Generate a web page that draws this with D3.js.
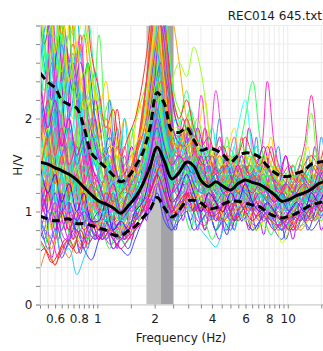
<!DOCTYPE html>
<html><head><meta charset="utf-8">
<script src="https://cdn.jsdelivr.net/npm/d3@7"></script>
<style>
body{margin:0;background:#fff}
svg{display:block}
text{font-family:"DejaVu Sans",Verdana,sans-serif;fill:#1a1a1a}
</style>
</head><body>
<svg id="chart" width="323" height="351"></svg>
<script>
const chartTitle = "REC014 645.txt";
const xTitle = "Frequency (Hz)";
const yTitle = "H/V";

// frequency samples of window group A and of the mean / std curves
const freqs = [0.50,0.55,0.60,0.65,0.71,0.78,0.85,0.93,1.02,1.11,1.21,1.33,1.45,1.58,1.73,1.89,2.06,2.25,2.46,2.69,2.94,3.21,3.51,3.84,4.19,4.58,5.01,5.47,5.98,6.54,7.14,7.81,8.53,9.32,10.2,11.1,12.2,13.3,14.5,15.5];
// frequency samples of window groups B and C
const freqsB = [0.48,0.525,0.575,0.625,0.68,0.745,0.815,0.89,0.975,1.065,1.16,1.27,1.39,1.515,1.655,1.81,1.975,2.155,2.355,2.575,2.815,3.075,3.36,3.675,4.015,4.385,4.795,5.24,5.725,6.26,6.84,7.475,8.17,8.925,9.76,10.65,11.65,12.75,13.9,15.0,16.2];

const meanHV  = [1.53,1.51,1.47,1.44,1.40,1.34,1.26,1.18,1.11,1.08,1.04,0.98,1.06,1.15,1.29,1.48,1.69,1.54,1.35,1.42,1.53,1.49,1.33,1.27,1.32,1.27,1.23,1.30,1.34,1.31,1.29,1.24,1.18,1.11,1.13,1.17,1.20,1.24,1.30,1.32];
const upperHV = [2.49,2.39,2.33,2.20,2.15,2.11,1.91,1.63,1.54,1.47,1.39,1.32,1.37,1.48,1.63,1.90,2.28,2.16,1.87,1.85,1.90,1.77,1.66,1.68,1.66,1.61,1.53,1.60,1.63,1.62,1.58,1.49,1.42,1.38,1.38,1.41,1.44,1.51,1.53,1.54];
const lowerHV = [0.95,0.92,0.90,0.91,0.92,0.87,0.87,0.85,0.82,0.80,0.75,0.74,0.79,0.84,0.93,1.02,1.15,1.04,0.94,1.01,1.11,1.12,1.09,1.03,1.04,1.08,1.11,1.11,1.09,1.07,1.05,0.99,0.95,0.93,0.95,0.98,1.03,1.07,1.09,1.11];

const peakBandLow  = [1.81, 2.16];
const peakBandHigh = [2.16, 2.51];

const xTickValues = [0.5,0.55,0.6,0.65,0.7,0.75,0.8,0.85,0.9,0.95,1,1.5,2,2.5,3,3.5,4,4.5,5,5.5,6,6.5,7,7.5,8,8.5,9,9.5,10,15];
const xTickLabels = [0.6,0.8,1,2,4,6,8,10];
const yTickValues = [0,0.2,0.4,0.6,0.8,1,1.2,1.4,1.6,1.8,2,2.2,2.4,2.6,2.8,3];
const yTickLabels = [0,1,2];

// windows, group A (sampled at freqs)
const win01 = [3.4,2.6,3.2,2.4,2.9,2.0,2.3,1.7,1.9,1.4,1.6,1.2,1.5,1.3,1.6,2.1,2.6,1.9,1.5,1.8,1.6,1.9,1.5,1.6,1.3,1.5,1.2,1.4,1.6,1.3,1.5,1.2,1.3,1.1,1.2,1.4,1.3,1.5,1.4,1.6];
const win02 = [0.9,0.6,0.8,0.5,0.7,0.9,0.6,0.8,0.7,0.9,0.6,0.7,0.6,0.8,0.9,1.1,1.3,1.0,0.8,1.0,1.2,1.1,0.9,1.0,0.8,1.0,0.9,1.1,1.0,0.8,0.9,1.0,0.8,0.7,0.9,0.8,1.0,0.9,1.1,1.0];
const win03 = [4.5,3.8,4.2,3.1,3.6,2.8,3.2,2.5,2.1,2.4,1.7,1.5,1.3,1.6,1.9,2.4,3.2,2.6,1.8,1.7,2.0,1.8,1.6,1.4,1.5,1.3,1.6,1.4,1.2,1.5,1.3,1.4,1.6,1.3,1.2,1.1,1.3,1.2,1.4,1.5];
const win04 = [1.6,2.1,1.4,1.8,1.3,1.6,1.2,1.4,1.0,1.2,0.9,1.1,1.0,1.2,1.1,1.5,1.8,1.6,1.3,1.4,1.6,1.3,1.5,1.1,1.3,1.2,1.0,1.2,1.4,1.3,1.1,1.3,1.2,1.0,1.1,1.2,1.0,1.1,1.3,1.2];
const win05 = [0.37,0.6,0.42,0.63,0.5,0.7,0.6,0.8,0.9,0.7,0.8,0.9,0.7,0.9,1.0,1.2,1.4,1.1,0.9,1.1,1.2,1.0,1.3,1.1,0.9,1.0,1.2,1.0,1.1,0.9,1.0,1.2,1.0,0.9,1.0,0.8,0.9,1.1,1.0,1.1];
const win06 = [2.8,3.5,2.5,3.0,2.2,2.7,1.9,2.2,1.6,1.3,1.5,1.2,1.4,1.1,1.3,1.7,2.2,2.0,1.6,1.5,1.8,1.7,1.4,1.5,1.3,1.4,1.2,1.5,1.3,1.4,1.5,1.3,1.2,1.0,1.1,1.3,1.2,1.4,1.3,1.4];
const win07 = [1.2,1.5,1.1,1.4,1.0,1.3,1.1,1.6,2.9,1.8,1.2,1.0,1.1,1.3,1.2,1.4,1.7,1.4,1.2,1.3,1.5,1.2,1.3,1.4,1.1,1.2,1.4,1.2,1.1,1.3,1.2,1.0,1.1,1.2,1.0,1.1,1.3,1.1,1.2,1.3];
const win08 = [2.0,1.6,2.2,1.5,1.8,1.4,1.5,1.2,1.1,1.3,1.0,1.2,1.1,1.4,1.6,2.0,2.5,2.2,2.4,2.6,2.45,2.77,2.5,1.9,1.5,1.6,1.3,1.4,1.2,1.3,1.5,1.3,1.2,1.4,1.3,1.1,1.2,1.4,1.3,1.2];
const win09 = [1.4,1.1,1.5,1.2,1.6,1.3,1.0,1.2,0.9,1.1,1.0,0.8,1.0,1.2,1.3,1.6,1.9,1.5,1.3,1.2,1.5,1.3,1.1,1.4,1.2,1.5,1.3,1.6,2.0,2.4,1.8,1.4,1.2,1.3,1.1,1.2,1.4,1.2,1.1,1.3];
const win10 = [2.5,1.9,2.3,1.7,2.0,1.6,1.8,1.4,1.3,1.1,1.2,0.9,1.1,1.0,1.2,1.5,1.8,1.4,1.2,1.4,1.3,1.6,1.2,1.3,1.5,1.2,1.4,1.2,1.3,1.5,1.6,2.4,1.7,1.4,1.3,1.2,1.4,1.3,1.5,1.4];
const win11 = [1.0,1.3,0.9,1.2,0.8,1.1,0.9,1.0,0.8,1.0,0.9,0.7,0.9,1.0,1.2,1.3,1.6,1.2,1.0,1.2,1.4,1.1,1.3,1.0,1.2,1.1,1.3,1.0,1.2,1.1,1.0,1.3,1.1,1.0,1.2,1.4,1.7,2.25,1.6,1.3];
const win12 = [3.0,2.3,2.7,2.0,2.4,1.8,2.1,1.6,1.4,1.2,1.4,1.1,1.3,1.2,1.4,1.8,2.1,1.7,1.4,1.5,1.3,1.6,1.4,1.2,1.4,1.3,1.5,1.9,2.2,1.6,1.3,1.2,1.4,1.2,1.1,1.3,1.2,1.4,1.2,1.3];
const win13 = [1.8,2.4,1.6,2.1,1.5,1.9,1.4,1.7,1.5,1.2,1.3,1.0,1.2,1.1,1.3,1.6,2.0,1.7,1.4,1.3,1.4,1.2,1.5,1.3,1.1,1.3,1.2,1.4,1.3,1.2,1.4,1.3,1.5,1.3,1.2,1.3,1.6,2.06,1.5,1.4];
const win14 = [2.2,1.7,2.0,1.5,1.8,1.3,1.6,1.2,1.0,1.2,1.0,0.9,1.1,1.3,1.5,1.9,2.3,1.8,1.5,1.6,1.8,1.7,2.25,1.6,2.3,1.7,1.4,1.5,1.3,1.4,1.2,1.3,1.4,1.2,1.1,1.3,1.2,1.1,1.3,1.2];
const win15 = [1.3,1.7,1.2,1.5,1.1,1.4,1.0,1.3,1.2,1.0,1.1,0.9,1.2,1.4,1.3,1.7,2.0,1.8,1.6,1.9,2.3,1.8,1.5,1.3,1.4,1.2,1.3,1.5,1.3,1.1,1.2,1.4,1.2,1.0,1.1,1.2,1.1,1.3,1.2,1.1];
const win16 = [1.0,0.7,0.8,0.55,0.6,0.32,0.5,0.7,0.8,0.7,0.9,0.8,0.9,1.0,1.1,1.3,1.5,1.2,1.0,1.1,1.0,1.2,0.9,1.0,0.8,0.9,1.0,0.9,1.1,1.0,0.9,1.0,0.8,0.9,1.0,0.9,1.0,1.1,1.0,1.0];
const win17 = [1.1,1.4,1.0,1.2,0.9,0.8,0.6,0.48,0.7,0.9,0.7,0.6,0.53,0.7,0.9,1.0,1.2,0.9,0.8,0.9,1.0,0.8,0.9,1.0,0.8,0.9,0.8,1.0,0.9,0.8,0.9,1.0,0.9,0.8,0.9,1.0,0.9,0.8,0.9,1.0];
const win18 = [0.7,0.55,0.43,0.6,0.7,0.55,0.7,0.9,0.8,1.0,0.9,0.8,1.0,0.9,1.1,1.2,1.4,1.2,1.0,1.0,1.2,1.1,1.0,1.2,0.9,1.0,1.1,0.9,1.0,1.2,1.0,0.9,1.0,0.9,0.8,1.0,0.9,1.0,1.2,1.1];
const win19 = [1.7,1.3,1.6,1.2,1.5,1.1,1.3,1.0,0.9,1.0,0.8,0.9,0.8,1.0,1.1,1.3,1.5,1.1,0.9,1.0,1.1,0.9,0.8,0.7,0.62,0.8,0.9,1.0,0.9,1.1,1.0,0.9,1.0,0.8,0.9,1.0,0.9,1.1,1.0,0.9];
const win20 = [1.5,1.9,1.4,1.7,1.3,1.5,1.2,1.3,1.1,0.9,1.0,0.8,1.0,0.9,1.1,1.4,1.6,1.3,1.1,1.2,1.3,1.1,1.2,1.0,1.1,0.9,1.0,1.1,0.9,1.0,0.9,0.8,0.9,0.66,0.8,0.9,1.0,0.9,1.0,1.1];
const win21 = [5.0,4.2,4.6,3.5,4.0,3.2,3.5,2.7,2.3,1.9,2.1,1.6,1.8,2.0,2.4,3.0,3.8,3.1,2.3,2.0,2.2,1.9,1.7,1.8,1.6,1.7,1.5,1.6,1.8,1.6,1.5,1.7,1.5,1.4,1.5,1.3,1.5,1.6,1.5,1.7];
const win22 = [2.6,3.1,2.3,2.8,2.0,2.4,1.7,2.0,1.5,1.7,1.3,1.2,1.4,1.5,1.7,2.2,2.7,2.1,1.6,1.7,1.9,1.6,1.4,1.5,1.3,1.5,1.4,1.6,1.4,1.3,1.5,1.4,1.3,1.2,1.4,1.3,1.4,1.5,1.4,1.5];
const win23 = [1.2,0.9,1.1,0.8,1.0,0.9,1.1,0.8,0.7,0.8,0.6,0.7,0.8,0.9,1.0,1.3,1.6,1.3,1.0,1.2,1.3,1.1,1.0,1.1,0.9,1.1,1.0,1.2,1.1,1.0,1.1,1.0,0.9,0.8,1.0,0.9,1.1,1.0,1.1,1.2];
const win24 = [1.9,1.5,1.8,1.4,1.7,1.2,1.5,1.1,1.3,1.1,1.2,1.0,1.1,1.0,1.2,1.6,1.9,1.6,1.3,1.6,1.4,1.5,1.3,1.4,1.2,1.4,1.3,1.2,1.4,1.2,1.3,1.1,1.2,1.1,1.0,1.2,1.1,1.2,1.3,1.2];
const win25 = [1.4,1.8,1.3,1.6,1.2,1.4,1.1,1.3,1.0,1.2,1.1,1.0,1.2,1.5,2.0,2.8,3.5,2.4,1.7,1.6,1.5,1.7,1.4,1.3,1.5,1.3,1.4,1.2,1.3,1.4,1.2,1.3,1.1,1.2,1.3,1.2,1.1,1.3,1.2,1.3];
const win26 = [1.6,1.3,1.5,1.2,1.4,1.1,1.3,1.0,1.2,1.0,1.1,0.9,1.1,1.3,1.6,2.2,2.8,3.3,3.1,2.6,2.0,1.7,1.5,1.4,1.6,1.4,1.3,1.5,1.3,1.2,1.4,1.5,1.3,1.2,1.3,1.4,1.2,1.3,1.2,1.4];
const win27 = [3.6,2.9,3.3,2.5,2.9,2.2,2.5,1.9,1.7,1.5,1.4,1.2,1.3,1.4,1.5,2.0,2.4,1.8,1.5,1.5,1.7,1.5,1.3,1.4,1.2,1.3,1.2,1.4,1.5,1.3,1.2,1.3,1.2,1.1,1.2,1.3,1.2,1.4,1.3,1.4];
const win28 = [0.8,1.0,0.7,0.9,0.7,0.8,0.7,0.9,0.8,0.7,0.8,0.7,0.8,0.9,1.0,1.1,1.3,1.1,0.9,1.0,1.1,1.0,1.1,0.9,1.0,1.1,0.9,1.0,1.1,1.0,0.9,1.0,0.9,0.8,0.9,1.0,0.9,1.0,1.1,1.0];
const win29 = [2.3,1.8,2.1,1.6,1.9,1.5,1.7,1.3,1.2,1.0,1.2,0.9,1.0,1.2,1.4,1.8,2.1,1.7,1.4,1.5,1.6,1.4,1.3,1.5,1.2,1.3,1.4,1.3,1.2,1.4,1.3,1.2,1.1,1.2,1.0,1.1,1.3,1.2,1.3,1.4];
const win30 = [1.1,1.4,1.0,1.3,0.9,1.2,0.9,1.1,1.0,0.8,0.9,0.8,0.9,1.1,1.2,1.5,1.8,1.4,1.2,1.3,1.2,1.4,1.2,1.1,1.3,1.1,1.2,1.3,1.1,1.2,1.1,1.0,1.1,1.0,1.1,1.2,1.0,1.1,1.2,1.1];
const win31 = [4.0,3.3,3.8,2.9,3.3,2.6,2.9,2.1,1.8,2.0,1.5,1.3,1.4,1.6,1.8,2.4,2.9,2.3,1.8,1.7,1.9,1.6,1.5,1.6,1.4,1.5,1.3,1.5,1.4,1.6,1.4,1.3,1.4,1.2,1.3,1.2,1.4,1.3,1.5,1.4];
const win32 = [1.3,1.0,1.2,1.0,1.1,0.9,1.0,0.9,1.0,0.9,0.8,0.9,1.0,1.1,1.3,1.6,1.9,1.5,1.2,1.3,1.5,1.3,1.2,1.3,1.1,1.2,1.1,1.3,1.2,1.1,1.2,1.1,1.0,1.1,1.0,1.1,1.2,1.1,1.2,1.3];
const win33 = [2.1,2.7,1.9,2.4,1.7,2.1,1.6,1.8,1.4,1.6,1.2,1.3,1.2,1.3,1.5,2.0,2.3,1.9,1.6,1.8,1.6,1.5,1.7,1.4,1.5,1.3,1.5,1.4,1.3,1.5,1.4,1.2,1.3,1.2,1.3,1.4,1.3,1.2,1.4,1.5];
const win34 = [0.9,1.2,0.8,1.0,0.8,1.0,0.8,0.9,0.7,0.8,0.7,0.6,0.7,0.8,0.9,1.2,1.4,1.2,1.0,1.1,1.2,1.0,1.1,1.0,1.1,0.9,1.0,1.1,1.0,0.9,1.0,0.9,0.8,0.9,0.8,0.9,1.0,0.9,1.0,1.1];
const win35 = [1.7,2.2,1.6,1.9,1.5,1.7,1.3,1.5,1.2,1.4,1.1,1.2,1.3,1.6,2.1,2.7,3.3,2.6,1.9,1.8,2.0,1.7,1.5,1.6,1.4,1.5,1.6,1.4,1.5,1.3,1.4,1.5,1.3,1.2,1.4,1.3,1.4,1.5,1.4,1.6];
const win36 = [3.2,2.5,2.9,2.2,2.6,2.0,2.2,1.6,1.5,1.3,1.4,1.1,1.2,1.3,1.4,1.9,2.2,1.8,1.4,1.5,1.4,1.6,1.4,1.2,1.3,1.2,1.4,1.3,1.4,1.2,1.3,1.4,1.2,1.1,1.2,1.1,1.3,1.2,1.3,1.4];
const win37 = [1.5,1.2,1.4,1.1,1.3,1.0,1.2,0.9,0.9,1.1,0.8,0.9,0.8,1.0,1.1,1.4,1.7,1.4,1.1,1.2,1.4,1.2,1.0,1.2,1.1,1.0,1.2,1.1,1.3,1.1,1.0,1.1,1.0,0.9,1.0,1.1,1.0,1.2,1.1,1.2];
const win38 = [2.9,3.7,2.7,3.3,2.4,2.8,2.1,2.4,1.9,1.6,1.7,1.4,1.5,1.7,1.9,2.5,3.1,2.4,1.9,1.9,1.7,1.8,1.6,1.5,1.7,1.5,1.6,1.4,1.6,1.5,1.4,1.6,1.4,1.3,1.4,1.3,1.5,1.4,1.6,1.5];
const win39 = [1.2,1.6,1.1,1.4,1.0,1.3,1.0,1.2,1.1,0.9,1.0,0.9,1.1,1.2,1.4,1.7,2.0,1.6,1.3,1.4,1.3,1.5,1.2,1.3,1.4,1.2,1.3,1.1,1.2,1.3,1.2,1.1,1.2,1.0,1.1,1.2,1.1,1.3,1.2,1.3];
const win40 = [2.4,1.9,2.2,1.7,2.0,1.6,1.8,1.5,1.3,1.1,1.3,1.0,1.2,1.1,1.3,1.6,2.0,1.7,1.5,1.6,1.5,1.4,1.6,1.3,1.4,1.2,1.3,1.5,1.3,1.2,1.3,1.2,1.1,1.2,1.1,1.2,1.3,1.2,1.4,1.3];

// windows, group B (sampled at freqsB)
const winB01 = [3.8,4.4,3.1,2.6,3.3,3.9,2.7,2.2,2.5,1.9,1.5,1.7,1.3,1.4,1.6,1.9,2.6,3.3,2.7,2.0,1.8,1.9,1.6,1.5,1.7,1.4,1.3,1.5,1.6,1.3,1.4,1.2,1.3,1.5,1.4,1.2,1.3,1.4,1.3,1.5,1.4];
const winB02 = [2.7,3.4,3.9,2.9,2.4,2.8,2.2,1.8,2.1,1.7,1.4,1.2,1.5,1.6,1.3,1.5,1.9,2.4,2.2,1.7,1.6,1.8,1.5,1.3,1.4,1.6,1.4,1.2,1.3,1.5,1.3,1.2,1.4,1.3,1.1,1.2,1.3,1.2,1.4,1.2,1.3];
const winB03 = [4.8,3.6,4.1,4.6,3.4,2.9,3.3,2.8,2.3,2.0,2.2,1.7,1.5,1.8,2.1,2.4,3.2,3.9,2.9,2.2,2.0,1.8,2.0,1.7,1.6,1.8,1.5,1.6,1.7,1.5,1.4,1.6,1.5,1.3,1.4,1.5,1.3,1.4,1.6,1.5,1.6];
const winB04 = [1.4,1.1,1.3,1.6,1.2,1.0,1.7,2.6,1.6,1.2,1.0,1.1,1.3,1.1,1.2,1.4,1.6,1.9,1.7,1.4,1.3,1.5,1.4,1.2,1.3,1.1,1.2,1.4,1.3,1.1,1.2,1.3,1.1,1.0,1.2,1.1,1.2,1.0,1.1,1.3,1.2];
const winB05 = [1.1,0.8,0.6,0.9,1.0,0.7,0.9,1.1,0.8,1.0,1.3,2.1,1.4,1.0,1.1,1.3,1.5,1.7,1.5,1.2,1.1,1.3,1.2,1.0,1.1,1.2,1.0,0.9,1.1,1.0,1.2,1.1,0.9,1.0,0.9,1.1,1.0,0.9,1.1,1.2,1.0];
const winB06 = [1.9,1.5,1.2,1.6,1.9,1.4,1.1,1.3,1.0,0.9,1.1,0.9,0.8,1.0,1.2,1.3,1.5,1.8,1.5,1.2,1.4,1.2,1.3,1.5,1.2,1.1,1.3,1.2,1.4,1.3,1.1,1.2,1.0,1.1,1.2,1.0,1.1,1.2,1.1,1.2,1.3];
const winB07 = [2.9,2.3,2.8,3.4,2.5,2.0,2.4,1.9,1.6,1.4,1.2,1.5,2.0,1.6,1.3,1.6,2.0,2.3,2.0,1.7,1.7,1.5,1.6,1.9,1.5,1.4,1.3,1.5,1.4,1.6,1.4,1.3,1.5,1.3,1.2,1.3,1.4,1.3,1.2,1.4,1.5];
const winB08 = [0.8,1.1,1.3,0.9,0.7,0.9,1.2,0.9,0.8,0.7,0.8,0.9,0.7,0.8,1.0,1.1,1.3,1.5,1.3,1.1,1.2,1.1,1.2,1.0,0.9,1.1,1.0,0.9,1.0,1.1,1.0,0.9,1.0,1.1,0.9,0.8,0.9,1.0,0.9,1.0,1.1];
const winB09 = [3.3,2.6,2.2,2.9,3.5,2.5,2.1,2.6,2.0,1.6,1.8,1.4,1.2,1.3,1.5,1.7,2.2,2.6,2.3,1.8,1.7,1.8,1.6,1.4,1.5,1.4,1.6,1.4,1.3,1.5,1.4,1.3,1.2,1.4,1.3,1.2,1.4,1.3,1.4,1.3,1.5];
const winB10 = [1.3,1.7,2.0,1.5,1.2,1.5,1.3,1.0,1.2,1.1,0.9,1.0,1.1,0.9,1.1,1.3,1.7,2.1,1.9,1.6,1.5,1.7,1.4,1.3,1.5,1.3,1.2,1.4,1.3,1.2,1.4,1.5,1.3,1.2,1.1,1.2,1.3,1.1,1.2,1.3,1.2];
const winB11 = [0.6,0.8,0.7,0.5,0.65,0.8,0.6,0.75,0.9,0.8,0.65,0.7,0.85,0.75,0.9,1.0,1.2,1.3,1.1,0.9,1.0,1.1,0.9,0.85,1.0,0.9,0.8,0.95,1.0,0.9,0.85,0.95,0.9,0.8,0.85,0.9,0.8,0.9,1.0,0.95,1.0];
const winB12 = [2.2,1.8,2.3,2.6,1.9,1.6,1.9,1.5,1.3,1.2,1.4,1.2,1.0,1.2,1.4,1.6,1.9,2.3,1.9,1.5,1.6,1.7,1.5,1.6,1.4,1.5,1.3,1.4,1.5,1.3,1.6,1.4,1.3,1.2,1.3,1.4,1.2,1.3,1.4,1.3,1.4];
const winB13 = [1.6,2.0,1.5,1.3,1.7,1.2,1.4,1.6,1.2,1.0,1.1,0.9,1.0,1.1,1.3,1.5,1.8,2.2,1.7,1.3,1.4,1.6,1.3,1.4,1.2,1.3,1.5,1.3,1.2,1.1,1.3,1.2,1.1,1.3,1.2,1.0,1.1,1.2,1.1,1.3,1.2];
const winB14 = [0.9,0.7,1.0,0.8,0.6,0.8,1.0,0.8,0.7,0.8,0.9,0.7,0.8,0.9,1.0,1.2,1.4,1.6,1.3,1.0,1.1,1.0,1.1,1.2,1.0,0.9,1.0,1.1,0.9,1.0,1.1,0.9,1.0,0.9,0.8,0.9,1.0,0.9,1.0,1.1,1.0];
const winB15 = [4.2,5.0,3.7,3.2,3.8,3.0,2.6,3.1,2.4,2.0,1.7,1.9,1.5,1.6,1.8,2.2,2.8,3.4,2.8,2.1,1.9,2.1,1.8,1.6,1.7,1.5,1.7,1.6,1.4,1.6,1.5,1.4,1.5,1.3,1.4,1.3,1.5,1.4,1.3,1.5,1.6];
const winB16 = [1.0,1.3,1.1,0.9,1.2,1.0,0.8,1.0,0.9,0.8,0.9,1.0,0.8,0.9,1.1,1.2,1.5,1.7,1.4,1.1,1.2,1.4,1.1,1.2,1.0,1.1,1.2,1.0,1.1,1.2,1.0,1.1,0.9,1.0,0.9,1.0,1.1,1.0,0.9,1.1,1.2];
const winB17 = [3.1,3.6,2.7,2.3,2.8,2.4,2.9,2.0,1.8,1.5,1.6,1.3,1.4,1.2,1.4,1.7,2.1,2.5,2.1,1.6,1.6,1.8,1.5,1.4,1.6,1.3,1.4,1.5,1.3,1.4,1.3,1.2,1.4,1.2,1.3,1.2,1.1,1.3,1.2,1.4,1.3];
const winB18 = [1.8,1.4,1.7,2.1,1.6,1.3,1.5,1.2,1.4,1.2,1.0,1.2,1.1,1.0,1.2,1.5,1.9,2.4,2.0,1.5,1.5,1.6,1.4,1.5,1.3,1.4,1.2,1.3,1.4,1.2,1.3,1.4,1.2,1.1,1.3,1.2,1.1,1.2,1.3,1.2,1.3];
const winB19 = [0.7,0.9,0.6,0.8,1.0,0.8,0.7,0.9,0.8,0.9,0.8,0.7,0.9,0.8,0.9,1.1,1.2,1.4,1.2,1.0,1.1,1.0,1.2,1.0,0.9,1.0,0.9,1.0,1.1,0.9,0.8,0.9,1.0,0.9,0.8,0.9,0.8,0.9,1.0,0.9,1.0];
const winB20 = [2.5,2.0,2.4,1.9,2.3,2.7,2.0,1.7,1.5,1.3,1.5,1.2,1.1,1.3,1.2,1.4,1.8,2.2,1.8,1.4,1.5,1.4,1.6,1.3,1.4,1.2,1.3,1.4,1.2,1.3,1.5,1.3,1.2,1.3,1.1,1.2,1.3,1.2,1.1,1.3,1.4];
const winB21 = [1.5,1.2,1.6,1.3,1.1,1.4,1.2,1.0,1.1,1.0,1.2,1.1,1.3,1.5,1.8,2.4,3.2,3.6,2.5,1.8,1.7,1.5,1.6,1.4,1.3,1.4,1.2,1.3,1.4,1.2,1.3,1.2,1.1,1.2,1.3,1.1,1.2,1.3,1.2,1.3,1.2];
const winB22 = [1.2,1.5,1.3,1.0,1.2,1.4,1.1,0.9,1.1,1.0,0.9,1.0,0.9,1.1,1.3,1.6,2.1,2.5,2.0,1.5,1.4,1.6,1.3,1.2,1.4,1.2,1.1,1.3,1.2,1.1,1.3,1.2,1.0,1.1,1.2,1.1,1.0,1.2,1.1,1.2,1.3];
const winB23 = [0.5,0.6,0.45,0.55,0.7,0.6,0.8,0.65,0.75,0.7,0.8,0.75,0.7,0.85,0.95,1.1,1.3,1.5,1.2,1.0,1.1,1.2,1.0,1.1,0.95,1.0,1.1,0.9,1.0,1.1,0.95,1.0,0.9,0.85,0.9,0.95,0.9,1.0,1.1,1.0,1.1];
const winB24 = [3.5,2.8,3.2,3.7,2.9,2.3,2.6,2.1,1.7,1.5,1.7,1.4,1.3,1.5,1.7,2.0,2.6,3.0,2.4,1.8,1.7,1.9,1.6,1.5,1.6,1.4,1.5,1.3,1.5,1.4,1.3,1.5,1.4,1.2,1.3,1.2,1.4,1.3,1.2,1.4,1.5];
const winB25 = [1.7,1.4,1.9,1.5,1.3,1.6,1.4,1.2,1.0,1.1,1.0,0.8,0.9,1.1,1.2,1.4,1.7,2.0,1.6,1.3,1.3,1.5,1.2,1.3,1.1,1.2,1.3,1.1,1.2,1.3,1.2,1.0,1.1,1.2,1.0,1.1,1.2,1.1,1.2,1.1,1.2];

// windows, group C (noisier windows, sampled at freqsB)
const winC01 = [2.2,1.2,2.6,1.4,0.9,1.8,1.1,2.0,1.0,1.6,0.9,1.7,1.1,0.8,1.5,1.2,2.4,1.6,2.2,1.3,1.9,1.1,1.7,1.0,1.5,0.9,1.6,1.1,1.8,1.2,1.0,1.6,0.9,1.4,1.0,1.5,1.1,0.9,1.4,1.0,1.3];
const winC02 = [1.0,2.8,1.3,3.2,1.5,0.8,1.9,0.9,1.6,0.8,1.4,0.7,1.3,1.9,1.0,1.4,1.9,2.8,1.5,1.1,1.6,2.0,1.2,1.7,1.0,1.3,0.8,1.4,1.0,1.9,1.3,1.6,1.0,1.2,0.8,1.1,1.5,1.0,1.7,1.2,1.0];
const winC03 = [3.5,1.6,2.4,0.9,2.9,1.3,2.2,0.8,1.8,1.0,2.2,1.2,0.9,1.3,0.9,1.7,1.3,2.1,1.2,1.8,1.2,1.5,1.9,1.1,1.4,2.0,1.2,1.0,1.5,1.1,1.8,1.0,1.3,1.7,1.1,1.3,0.9,1.6,1.2,1.8,1.4];
const winC04 = [0.6,1.2,0.5,0.9,1.4,0.7,1.1,0.6,1.2,0.7,1.0,0.6,1.1,0.8,1.3,0.9,1.5,1.2,0.9,1.4,0.9,1.3,0.8,1.2,0.9,0.7,1.1,0.8,1.3,0.9,1.1,0.75,1.2,0.8,1.0,0.7,1.1,0.9,1.3,0.8,1.0];
const winC05 = [1.8,3.1,2.0,1.2,2.5,3.4,1.6,1.2,2.3,1.4,1.1,1.8,1.0,1.5,2.2,1.6,2.9,2.0,1.4,2.1,1.5,1.2,1.8,2.2,1.4,1.1,1.6,1.9,1.3,1.5,1.1,1.4,1.8,1.2,1.4,1.0,1.3,1.7,1.2,1.5,1.6];
const winC06 = [1.3,0.8,1.5,0.7,1.2,0.9,0.55,1.0,0.7,1.2,0.8,1.0,0.7,1.2,0.9,1.3,1.1,1.7,1.0,0.8,1.3,0.9,1.1,0.8,1.2,1.0,0.75,1.1,0.9,1.2,0.8,1.0,0.85,1.1,0.7,0.95,1.1,0.8,1.0,1.2,0.9];
const winC07 = [2.6,1.7,3.3,2.1,1.5,2.4,1.8,1.2,2.0,1.5,1.9,1.3,1.6,1.1,1.8,2.2,1.8,2.6,2.1,1.5,2.0,1.6,1.3,1.9,1.5,1.8,1.2,1.6,1.4,1.9,1.5,1.2,1.7,1.4,1.6,1.2,1.5,1.3,1.7,1.3,1.5];
const winC08 = [0.9,1.6,1.1,2.1,0.9,1.3,0.8,1.5,1.1,0.8,1.5,1.0,2.0,1.2,0.9,1.2,1.6,1.3,1.1,0.9,1.4,1.0,1.5,1.2,0.9,1.3,1.0,0.8,1.2,1.0,1.4,1.1,0.9,1.3,1.0,1.2,0.9,1.1,1.4,1.0,1.2];
const winC09 = [4.0,2.5,3.0,1.9,3.6,2.4,1.6,2.6,1.5,2.0,1.3,1.6,1.1,1.4,1.2,1.6,2.2,2.9,2.4,1.6,1.7,2.1,1.5,1.3,1.7,1.4,1.8,1.3,1.5,1.2,1.7,1.4,1.2,1.5,1.2,1.4,1.6,1.2,1.5,1.3,1.4];
const winC10 = [1.5,1.0,1.9,1.2,0.8,1.4,1.0,1.7,1.2,0.9,1.2,0.8,1.0,0.7,1.1,1.0,1.8,1.4,1.1,1.3,1.0,1.4,1.1,0.8,1.2,1.0,1.3,0.9,1.1,0.8,1.2,1.0,1.3,0.9,1.1,0.8,1.0,1.2,0.9,1.1,0.9];
const winC11 = [2.0,2.9,1.5,2.4,1.7,1.1,2.2,1.4,1.1,1.3,0.9,1.1,1.4,1.0,1.6,1.9,2.6,1.9,1.7,2.0,1.4,1.8,1.3,1.6,1.9,1.4,1.3,1.7,1.2,1.4,1.7,1.3,1.5,1.1,1.3,1.5,1.2,1.4,1.6,1.3,1.4];
const winC12 = [1.1,1.9,0.8,1.5,2.3,1.1,0.9,1.4,0.8,1.1,1.6,0.9,0.8,1.1,1.4,1.1,1.3,1.6,1.3,1.0,1.2,1.0,1.3,1.5,1.1,0.9,1.2,1.0,1.4,1.0,0.9,1.2,1.0,1.2,0.9,1.0,1.3,1.0,0.9,1.2,1.1];
const winC13 = [3.0,3.8,2.2,2.9,1.9,2.6,2.0,1.5,2.2,1.7,1.3,1.9,1.4,1.7,1.3,1.9,2.3,3.1,2.7,2.0,1.8,1.5,1.9,1.6,1.4,1.7,1.5,1.3,1.6,1.4,1.5,1.7,1.4,1.3,1.6,1.3,1.4,1.2,1.5,1.4,1.6];
const winC14 = [0.8,0.6,1.0,0.7,0.9,0.6,0.8,0.7,1.0,0.8,0.6,0.8,0.65,0.75,0.9,1.1,1.2,1.4,1.0,0.9,1.0,0.8,1.1,0.9,0.7,0.9,1.0,0.85,1.0,0.9,0.8,0.9,0.75,0.9,0.8,1.0,0.85,0.9,1.0,0.9,1.0];
const winC15 = [1.6,2.2,2.9,1.7,2.0,1.4,2.8,1.6,1.3,1.6,1.2,1.4,1.7,1.2,1.5,1.4,2.0,2.3,1.8,1.4,1.7,1.3,1.5,1.2,1.6,1.3,1.5,1.8,1.3,1.2,1.5,1.2,1.4,1.1,1.3,1.2,1.5,1.2,1.3,1.5,1.3];

const windowsA = [win01,win02,win03,win04,win05,win06,win07,win08,win09,win10,win11,win12,win13,win14,win15,win16,win17,win18,win19,win20,
                  win21,win22,win23,win24,win25,win26,win27,win28,win29,win30,win31,win32,win33,win34,win35,win36,win37,win38,win39,win40];
const windowsB = [winB01,winB02,winB03,winB04,winB05,winB06,winB07,winB08,winB09,winB10,winB11,winB12,winB13,
                  winB14,winB15,winB16,winB17,winB18,winB19,winB20,winB21,winB22,winB23,winB24,winB25];
const windowsC = [winC01,winC02,winC03,winC04,winC05,winC06,winC07,winC08,winC09,winC10,winC11,winC12,winC13,winC14,winC15];

const colorsA = ["#33ff33","#4455ff","#ffcc00","#ff33cc","#ff7f2a","#00ddff","#4cff4c","#9aff2a","#33ff66","#ff33cc",
                 "#ff3399","#33ffff","#66ff33","#ff44dd","#44ff88","#33ccff","#4444ff","#ff2a2a","#22ddff","#ccff22",
                 "#ff3333","#22aaff","#aa33ff","#00ffaa","#ff5500","#ffaa00","#88ff00","#cc33ff","#0099ff","#ff66ff",
                 "#ff8800","#7733ff","#00ffcc","#ff00aa","#ff3366","#44ff44","#5500ff","#eedd00","#00e5e5","#dd00ff"];
const colorsB = ["#00ccff","#ff4400","#66ff00","#22ff55","#ff3333","#11eeee","#ffbb00","#bb33ff","#2266ff","#ff9900",
                 "#ff22cc","#88ff00","#ff3377","#6633ff","#33ffaa","#44ee44","#ff22ee","#ee44ee","#eedd00","#22aaff",
                 "#ff6622","#00ee88","#ee2222","#9933ff","#33ddcc"];
const colorsC = ["#ff4444","#22ff99","#3399ff","#aa22ff","#ffdd00","#3344ff","#ff22cc","#00ddff","#55ff22","#ff1188",
                 "#00ffcc","#ffbb22","#cc00ff","#22ff44","#ff55aa"];

const svg = d3.select("#chart");
const x = d3.scaleLog().domain([0.5, 15.5]).range([40, 324]);
const y = d3.scaleLinear().domain([0, 3]).range([304.5, 25.5]);
const [x0, x1] = x.range();
const [yb, yt] = y.range();

svg.append("defs").append("clipPath").attr("id","plotclip")
  .append("rect").attr("x",x0).attr("y",yt).attr("width",x1-x0).attr("height",yb-yt);

// grid
const grid = svg.append("g");
grid.selectAll("line.vg").data(xTickValues).join("line").attr("class","vg")
  .attr("x1",d=>x(d)).attr("x2",d=>x(d)).attr("y1",yt).attr("y2",yb)
  .attr("stroke","#ececec").attr("stroke-width",1);
grid.selectAll("line.hg").data(yTickValues).join("line").attr("class","hg")
  .attr("x1",x0).attr("x2",x1).attr("y1",d=>y(d)).attr("y2",d=>y(d))
  .attr("stroke","#ececec").attr("stroke-width",1);

const plot = svg.append("g").attr("clip-path","url(#plotclip)");

// peak frequency band
plot.append("rect").attr("x",x(peakBandLow[0])).attr("width",x(peakBandLow[1])-x(peakBandLow[0]))
  .attr("y",yt).attr("height",yb-yt).attr("fill","#c2c2c2");
plot.append("rect").attr("x",x(peakBandHigh[0])).attr("width",x(peakBandHigh[1])-x(peakBandHigh[0]))
  .attr("y",yt).attr("height",yb-yt).attr("fill","#a3a2a7");

const lineA = d3.line().x((d,i)=>x(freqs[i])).y(d=>y(d)).curve(d3.curveCatmullRom.alpha(0.5));
const lineB = d3.line().x((d,i)=>x(freqsB[i])).y(d=>y(d)).curve(d3.curveCatmullRom.alpha(0.5));

// interleave the groups so colours mix
const allWins = [];
for (let i = 0; i < windowsA.length; i++) {
  allWins.push({d: lineA(windowsA[i]), c: colorsA[i]});
  if (i < windowsB.length) allWins.push({d: lineB(windowsB[i]), c: colorsB[i]});
  if (i < windowsC.length) allWins.push({d: lineB(windowsC[i]), c: colorsC[i]});
}
plot.selectAll("path.win").data(allWins).join("path")
  .attr("class","win").attr("d",w=>w.d).attr("fill","none")
  .attr("stroke",w=>w.c).attr("stroke-width",1);

[upperHV, lowerHV].forEach(s=>{
  plot.append("path").attr("d",lineA(s)).attr("fill","none").attr("stroke","#000")
    .attr("stroke-width",3).attr("stroke-dasharray","8,4.5");
});
plot.append("path").attr("d",lineA(meanHV)).attr("fill","none").attr("stroke","#000").attr("stroke-width",3);

// axes
const xAxis = d3.axisBottom(x).tickValues(xTickValues)
  .tickFormat(d => xTickLabels.includes(d) ? String(d) : "").tickSize(4).tickPadding(6);
const gx = svg.append("g").attr("transform",`translate(0,${yb})`).call(xAxis);
gx.select(".domain").attr("stroke","#c8c8c8");
gx.selectAll(".tick line").attr("stroke","#8a8a8a");
gx.selectAll(".tick text").attr("font-size",12).attr("font-family","DejaVu Sans").attr("fill","#1a1a1a");

const yAxis = d3.axisLeft(y).tickValues(yTickValues)
  .tickFormat(d => yTickLabels.includes(d) ? String(d) : "").tickSize(4).tickPadding(3.5);
const gy = svg.append("g").attr("transform",`translate(${x0},0)`).call(yAxis);
gy.select(".domain").attr("stroke","#d8d8d8");
gy.selectAll(".tick line").attr("stroke","#8a8a8a");
gy.selectAll(".tick text").attr("font-size",12).attr("font-family","DejaVu Sans").attr("fill","#1a1a1a");

// titles
svg.append("text").attr("x",322).attr("y",20).attr("text-anchor","end").attr("font-size",12).text(chartTitle);
svg.append("text").attr("x",(x0+x1)/2 - 1).attr("y",342).attr("text-anchor","middle").attr("font-size",12).text(xTitle);
svg.append("text").attr("transform",`translate(21.5,${(yt+yb)/2}) rotate(-90)`).attr("text-anchor","middle").attr("font-size",12).text(yTitle);
</script>
</body></html>
